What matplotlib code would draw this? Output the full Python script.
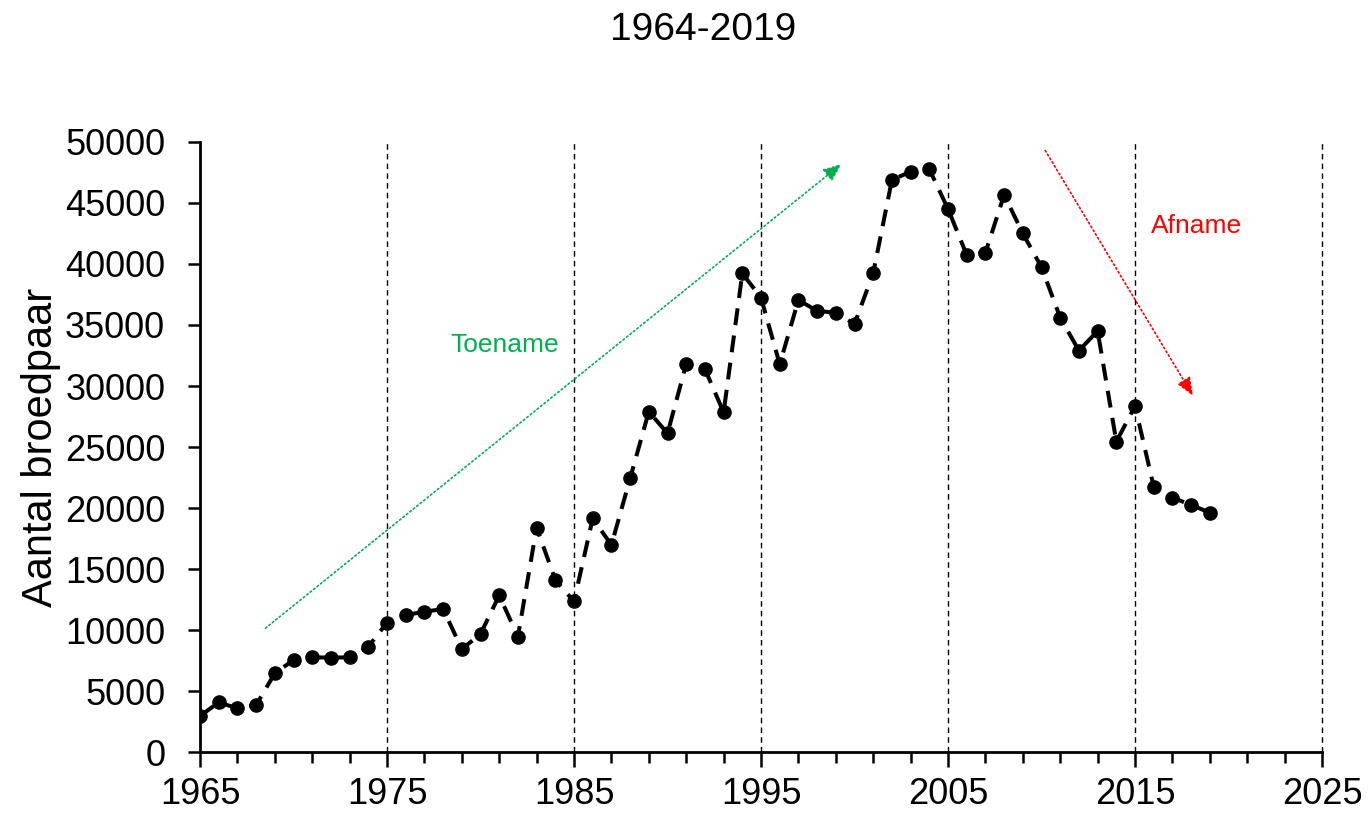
import matplotlib
matplotlib.use("Agg")
import matplotlib.pyplot as plt
from matplotlib.ticker import MultipleLocator, FixedLocator

plt.rcParams['font.family'] = ['Liberation Sans', 'DejaVu Sans']

years = list(range(1965, 2020))
pairs = [2950, 4070, 3580, 3850, 6450, 7540, 7760, 7740, 7760, 8630,
         10600, 11230, 11500, 11720, 8440, 9670, 12840, 9450, 18400, 14100,
         12350, 19150, 16970, 22430, 27900, 26120, 31800, 31390, 27840, 39230,
         37240, 31780, 37050, 36150, 36010, 35080, 39260, 46890, 47570, 47760,
         44510, 40740, 40930, 45660, 42510, 39730, 35600, 32900, 34510, 25440,
         28360, 21750, 20850, 20250, 19620]

title = "1964-2019"
ylabel = "Aantal broedpaar"
grow_label = "Toename"
decline_label = "Afname"
grow_arrow = [(1968.5, 10150), (1999.3, 48200)]
decline_arrow = [(2010.2, 49300), (2018.1, 29200)]
major_years = list(range(1965, 2026, 10))
minor_years = list(range(1965, 2026, 2))
grid_years = list(range(1975, 2026, 10))

fig = plt.figure(figsize=(13.68, 8.16), dpi=100)
ax = fig.add_axes([0.1462, 0.0784, 0.8202, 0.7476])

ax.plot(years, pairs, color='black', linestyle=(0, (4.2, 2.6)), linewidth=2.9,
        marker='o', markersize=9.5, markerfacecolor='black', markeredgecolor='black',
        zorder=3)

ax.set_xlim(1965, 2025)
ax.set_ylim(0, 50000)
ax.xaxis.set_major_locator(FixedLocator(major_years))
ax.xaxis.set_minor_locator(FixedLocator(minor_years))
ax.yaxis.set_major_locator(MultipleLocator(5000))

for x in grid_years:
    ax.axvline(x, color='black', linestyle=(0, (4, 3)), linewidth=1.0, zorder=1,
               clip_on=False)

for s in ['top', 'right']:
    ax.spines[s].set_visible(False)
for s in ['left', 'bottom']:
    ax.spines[s].set_linewidth(2)
    ax.spines[s].set_color('black')

ax.tick_params(axis='y', which='major', direction='out', length=9, width=1.8,
               labelsize=26, pad=16)
ax.tick_params(axis='x', which='major', direction='out', length=11, width=1.8,
               labelsize=26, pad=7)
ax.tick_params(axis='x', which='minor', direction='out', length=8, width=1.8)
ax.set_ylabel(ylabel, fontsize=30, labelpad=3)

ax.annotate('', xy=grow_arrow[1], xytext=grow_arrow[0],
            arrowprops=dict(arrowstyle='-|>,head_length=1.1,head_width=0.45',
                            color='#00B050', linestyle=':', linewidth=1.2,
                            shrinkA=0, shrinkB=0))
ax.annotate('', xy=decline_arrow[1], xytext=decline_arrow[0],
            arrowprops=dict(arrowstyle='-|>,head_length=1.1,head_width=0.45',
                            color='#FF0000', linestyle=':', linewidth=1.2,
                            shrinkA=0, shrinkB=0))
ax.text(1981.3, 33400, grow_label, color='#00B050', fontsize=19,
        ha='center', va='center')
ax.text(2018.3, 43100, decline_label, color='#FF0000', fontsize=19,
        ha='center', va='center')

fig.text(0.514, 0.963, title, fontsize=28, ha='center', va='center')

fig.savefig('out.png', dpi=100)
